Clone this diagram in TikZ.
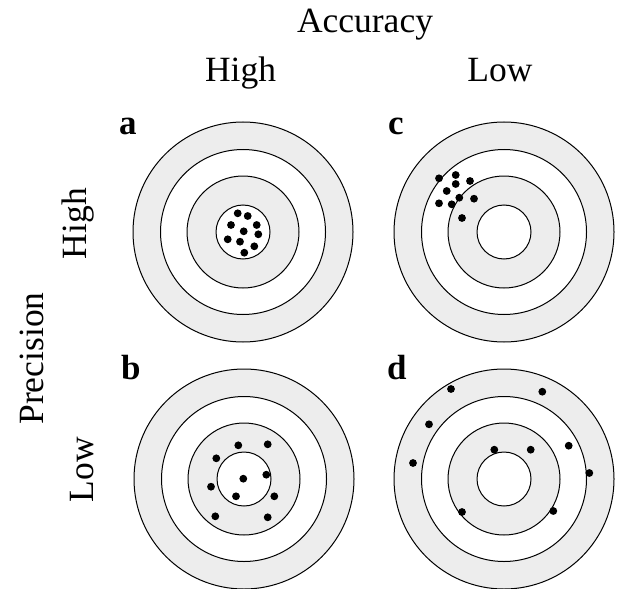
\documentclass[tikz,border=0pt]{standalone}
\usepackage{fontspec}
\setmainfont{Liberation Serif}
\definecolor{ringgray}{HTML}{EDEDED}
\begin{document}
\begin{tikzpicture}[x=1pt,y=-1pt,
  lbl/.style={inner sep=0pt,font=\fontsize{35.5}{40}\selectfont},
  panel/.style={inner sep=0pt,font=\fontsize{35}{40}\selectfont\bfseries},
  ring/.style={draw=black,line width=1pt},
  shot/.style={fill=black}]
\useasboundingbox (0,0) rectangle (617,588);
% headings
\node[lbl,anchor=base] (acc) at (365,33) {Accuracy};
\node[lbl,anchor=base] (hh) at (240.5,82) {High};
\node[lbl,anchor=base] (hl) at (500,82) {Low};
\node[lbl,anchor=base,rotate=90] (prec) at (43,358.5) {Precision};
\node[lbl,anchor=base,rotate=90] (vh) at (86,223.5) {High};
\node[lbl,anchor=base,rotate=90] (vl) at (93,469.5) {Low};
% panel letters
\node[panel,anchor=base west] (la) at (119,135) {a};
\node[panel,anchor=base west] (lc) at (388,135) {c};
\node[panel,anchor=base west] (lb) at (121,379) {b};
\node[panel,anchor=base west] (ld) at (387,379) {d};
% target centres
\coordinate (A) at (243,232);
\coordinate (C) at (504,232);
\coordinate (B) at (244,479);
\coordinate (D) at (504,479);
\foreach \c in {A,B,C,D}{
  \begin{scope}[shift={(\c)}]
    \fill[ringgray] (0,0) circle (110);
    \fill[white] (0,0) circle (82.5);
    \fill[ringgray] (0,0) circle (56);
    \fill[white] (0,0) circle (27);
    \draw[ring] (0,0) circle (110);
    \draw[ring] (0,0) circle (82.5);
    \draw[ring] (0,0) circle (56);
    \draw[ring] (0,0) circle (27);
  \end{scope}
}
% shots a
\begin{scope}[shift={(A)}]
\foreach \p in {(-5.3,-18.7),(4.7,-16),(-12,-7),(13.7,-7),(0.7,-0.7),(15.3,2.3),(-15.3,7.3),(-3,9.7),(11.3,14.3),(1.3,20.7)}
  \fill[shot] \p circle (3.9);
\end{scope}
% shots c
\begin{scope}[shift={(C)}]
\foreach \p in {(-65,-53.7),(-48.3,-57),(-34,-51),(-48.3,-48),(-57.3,-41),(-44.7,-34.3),(-30,-33.3),(-65,-28.7),(-52.3,-27.7),(-42,-14)}
  \fill[shot] \p circle (3.9);
\end{scope}
% shots b
\begin{scope}[shift={(B)}]
\foreach \p in {(-5.7,-33.7),(23.7,-34.7),(-27.7,-20.7),(22.3,-4.3),(-0.7,-0.3),(-33,7.7),(-8,17.3),(30.3,17.3),(-28.7,37.3),(23.7,38.3)}
  \fill[shot] \p circle (3.9);
\end{scope}
% shots d
\begin{scope}[shift={(D)}]
\foreach \p in {(-53,-90),(38.3,-87.3),(-75,-54.7),(64.7,-33.3),(-9.7,-29.3),(26.7,-29.3),(-91,-16),(85.3,-6),(-42,33),(49.3,32)}
  \fill[shot] \p circle (3.9);
\end{scope}
\end{tikzpicture}
\end{document}
